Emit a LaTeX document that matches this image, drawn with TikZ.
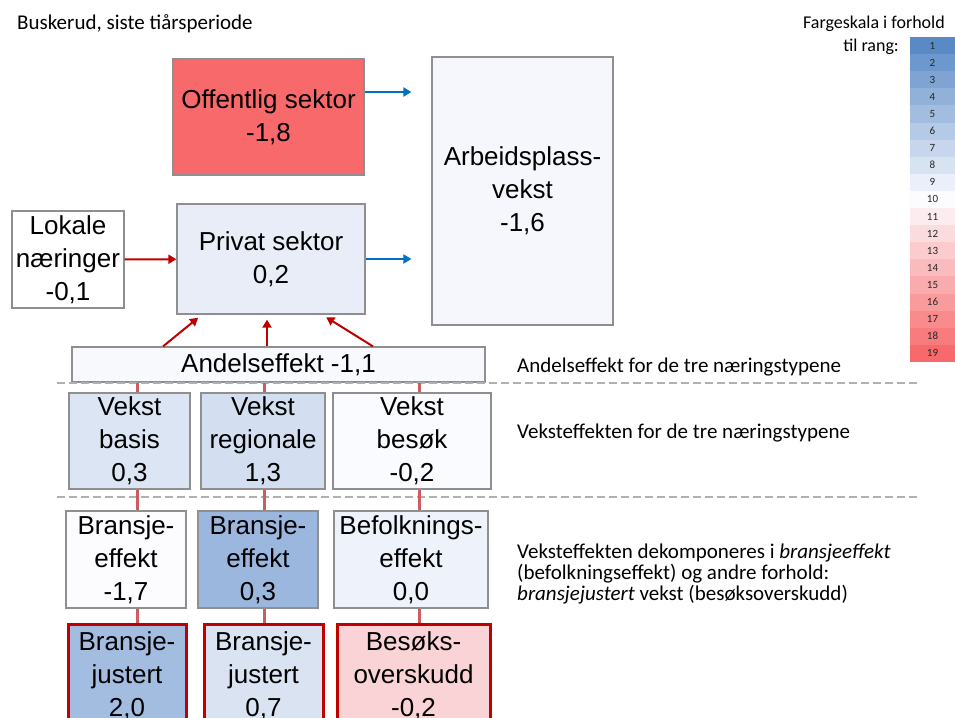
\documentclass[tikz,border=0pt]{standalone}
\usepackage{fontspec}
\setmainfont{Liberation Sans}
\newfontfamily\calibri{Carlito}
\usepackage{tikz}
\usetikzlibrary{arrows.meta}

\definecolor{scaleblue}{HTML}{5A8AC6}
\definecolor{scalewhite}{HTML}{FCFCFF}
\definecolor{scalered}{HTML}{F8696B}
\definecolor{boxgray}{HTML}{8F8F8F}
\definecolor{boxred}{HTML}{C00000}
\definecolor{arrowred}{HTML}{C00000}
\definecolor{arrowblue}{HTML}{0070C0}
\definecolor{linkred}{HTML}{CC5C5E}
\definecolor{sepgray}{HTML}{B0B0B0}
\definecolor{privfill}{HTML}{E9EDF7}
\definecolor{arbfill}{HTML}{F5F7FC}
\definecolor{andelfill}{HTML}{F8F9FD}
\definecolor{basisfill}{HTML}{DCE5F3}
\definecolor{regfill}{HTML}{D3DEF0}
\definecolor{besokfill}{HTML}{FAFBFE}
\definecolor{bransjefill}{HTML}{9BB7DE}
\definecolor{befolkfill}{HTML}{EEF2FA}
\definecolor{justfill}{HTML}{A3BDE1}
\definecolor{justbfill}{HTML}{DAE3F2}
\definecolor{overfill}{HTML}{F9D3D6}

\begin{document}
\begin{tikzpicture}[x=1pt, y=-1pt,
  box/.style={draw=boxgray, line width=1.2pt, inner sep=0pt, align=center,
    font=\fontsize{26}{33}\selectfont},
  redbox/.style={box, draw=boxred, line width=3pt},
  note/.style={inner sep=0pt, align=left, font=\calibri\fontsize{21}{21}\selectfont},
  rank/.style={inner sep=0pt, minimum width=45pt, minimum height=17.1pt,
    text=black!85, font=\calibri\fontsize{11}{11}\selectfont},
  redarrow/.style={color=arrowred, line width=2pt, -{Triangle[length=8pt,width=9pt]}},
  bluearrow/.style={color=arrowblue, line width=2pt, -{Triangle[length=8pt,width=9pt]}},
  link/.style={color=linkred, line width=3pt},
  sep/.style={draw=sepgray, line width=2.5pt, dash pattern=on 8pt off 4pt}]
  \useasboundingbox (0,0) rectangle (955,717);
  \clip (0,0) rectangle (955,717);

  \node[note, anchor=west] (title) at (17,24) {Buskerud, siste tiårsperiode};
  \node[note, anchor=east, font=\calibri\fontsize{18}{18}\selectfont] (head) at (945,24) {Fargeskala i forhold};
  \node[note, anchor=east, font=\calibri\fontsize{18}{18}\selectfont] (headb) at (899,47) {til rang:};
  \foreach \r in {1,...,19}{
    \ifnum\r<11
      \pgfmathtruncatemacro\p{100*(10-\r)/9}\def\rankcol{scaleblue!\p!scalewhite}
    \else
      \pgfmathtruncatemacro\p{100*(\r-10)/9}\def\rankcol{scalered!\p!scalewhite}
    \fi
    \node[rank, fill=\rankcol] (r\r) at (932.5, {37+17.1*(\r-0.5)}) {\r};
  }

  \node[box, fill=scalered, minimum width=191pt, minimum height=116pt] (off) at (268.5,117) {Offentlig sektor\\-1,8};
  \node[box, fill=privfill, minimum width=188pt, minimum height=110pt] (priv) at (271,259) {Privat sektor\\0,2};
  \node[box, fill=arbfill, minimum width=181pt, minimum height=268pt] (arb) at (522.5,191) {Arbeidsplass-\\vekst\\-1,6};
  \node[box, fill=white, minimum width=112pt, minimum height=97pt] (lok) at (68,259.5) {Lokale\\næringer\\-0,1};
  \node[box, fill=andelfill, minimum width=413pt, minimum height=35pt] (andel) at (278.5,364.5) {Andelseffekt -1,1};

  \node[box, fill=basisfill, minimum width=121pt, minimum height=96pt] (vb) at (129.5,441) {Vekst\\basis\\0,3};
  \node[box, fill=regfill, minimum width=124pt, minimum height=96pt] (vr) at (263,441) {Vekst\\regionale\\1,3};
  \node[box, fill=besokfill, minimum width=158pt, minimum height=96pt] (vs) at (412,441) {Vekst\\besøk\\-0,2};

  \node[box, fill=scalewhite, minimum width=120pt, minimum height=97pt] (be) at (126,559.5) {Bransje-\\effekt\\-1,7};
  \node[box, fill=bransjefill, minimum width=120pt, minimum height=97pt] (ber) at (258,559.5) {Bransje-\\effekt\\0,3};
  \node[box, fill=befolkfill, minimum width=154pt, minimum height=97pt] (bf) at (411,559.5) {Befolknings-\\effekt\\0,0};

  \node[redbox, fill=justfill, minimum width=118pt, minimum height=104pt] (bj) at (127,676) {Bransje-\\justert\\2,0};
  \node[redbox, fill=justbfill, minimum width=119pt, minimum height=104pt] (bjr) at (263.5,676) {Bransje-\\justert\\0,7};
  \node[redbox, fill=overfill, minimum width=153pt, minimum height=104pt] (bo) at (413.5,676) {Besøks-\\overskudd\\-0,2};

  \node[note, anchor=west] (andelnote) at (517,367) {Andelseffekt for de tre næringstypene};
  \node[note, anchor=west] (vekstnote) at (517,433) {Veksteffekten for de tre næringstypene};
  \node[note, anchor=west] (dekompnote) at (517,574) {Veksteffekten dekomponeres i \textit{bransjeeffekt}\\(befolkningseffekt) og andre forhold:\\\textit{bransjejustert} vekst (besøksoverskudd)};

  \draw[sep] (57,383) -- (920,383);
  \draw[sep] (57,497) -- (920,497);

  \coordinate (l1) at (137,0);
  \coordinate (l2) at (264,0);
  \coordinate (l3) at (419,0);
  \path[link]
  (andel.south -| l1) edge (vb.north -| l1)
  (andel.south -| l2) edge (vr.north -| l2)
  (andel.south -| l3) edge (vs.north -| l3)
  (vb.south -| l1) edge (be.north -| l1)
  (vr.south -| l2) edge (ber.north -| l2)
  (vs.south -| l3) edge (bf.north -| l3)
  (be.south -| l1) edge (bj.north -| l1)
  (ber.south -| l2) edge (bjr.north -| l2)
  (bf.south -| l3) edge (bo.north -| l3)
  ;

  \coordinate (a1) at (163,0);
  \coordinate (a2) at (267,0);
  \coordinate (a3) at (373,0);
  \coordinate (p1) at (202,0);
  \coordinate (p3) at (322,0);
  \path[redarrow]
  (lok) edge (priv)
  (andel.north -| a1) edge[shorten >=5pt] (priv.south -| p1)
  (andel.north -| a2) edge[shorten >=5pt] (priv.south -| a2)
  (andel.north -| a3) edge[shorten >=5pt] (priv.south -| p3)
  ;
  \path[bluearrow]
  ([yshift=25pt]off.east) edge[shorten >=20pt] ([yshift=25pt]off.east -| arb.west)
  (priv.east) edge[shorten >=20pt] (priv.east -| arb.west)
  ;
\end{tikzpicture}
\end{document}
